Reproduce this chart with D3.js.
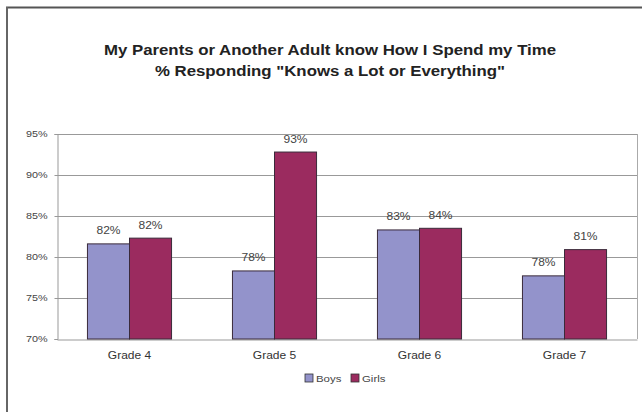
<!DOCTYPE html>
<html><head><meta charset="utf-8">
<script src="https://cdn.jsdelivr.net/npm/d3@7"></script>
<style>body{margin:0;background:#fff}svg{display:block}text{font-family:"Liberation Sans",Arial,sans-serif}</style>
</head><body><svg id="c" width="642" height="412"></svg>
<script>
const categories = ["Grade 4","Grade 5","Grade 6","Grade 7"];
const seriesNames = ["Boys","Girls"];
const boys = [81.6, 78.3, 83.3, 77.7];
const girls = [82.3, 92.8, 83.5, 80.9];
const boysLabels = ["82%","78%","83%","78%"];
const girlsLabels = ["82%","93%","84%","81%"];
const yTicks = [70,75,80,85,90,95];
const titleLines = ["My Parents or Another Adult know How I Spend my Time","% Responding \"Knows a Lot or Everything\""];
const colors = ["#9393cb","#9b2b5f"];

const svg = d3.select("#c");
// outer frame
svg.append("line").attr("x1",6).attr("x2",642).attr("y1",7.5).attr("y2",7.5).attr("stroke","#555").attr("stroke-width",2);
svg.append("line").attr("x1",7).attr("x2",7).attr("y1",7).attr("y2",412).attr("stroke","#666").attr("stroke-width",2);

const m = {l:57, r:637, t:134, b:339};
const x0 = d3.scaleBand().domain(categories).range([m.l,m.r]).paddingInner(0.42).paddingOuter(0.21);
const x1 = d3.scaleBand().domain(seriesNames).range([0,x0.bandwidth()]);
const y = d3.scaleLinear().domain([70,95]).range([m.b,m.t]);

// gridlines
svg.append("g").selectAll("line").data(yTicks.slice(1)).join("line")
  .attr("x1",m.l).attr("x2",m.r).attr("y1",d=>Math.round(y(d))+0.5).attr("y2",d=>Math.round(y(d))+0.5)
  .attr("stroke","#999").attr("stroke-width",1);
svg.append("line").attr("x1",m.r+0.5).attr("x2",m.r+0.5).attr("y1",m.t).attr("y2",m.b).attr("stroke","#aaa");

const yAxis = d3.axisLeft(y).tickValues(yTicks).tickFormat(d=>d+"%").tickSize(3);
const ga = svg.append("g").attr("transform",`translate(${m.l+0.5},0)`).call(yAxis);
ga.select(".domain").attr("stroke","#999");
ga.selectAll(".tick line").attr("stroke","#999");
ga.selectAll("text").attr("font-size",9).attr("fill","#444").attr("x",-10).attr("font-family","Liberation Sans, Arial, sans-serif");

const xAxis = d3.axisBottom(x0).tickSize(0);
const gx = svg.append("g").attr("transform",`translate(0,${m.b+0.5})`).call(xAxis);
gx.select(".domain").attr("stroke","#999");
gx.selectAll("text").attr("font-size",10).attr("fill","#333").attr("dy","1.6em").attr("font-family","Liberation Sans, Arial, sans-serif");

const data = categories.map((c,i)=>({c, vals:[{s:"Boys",v:boys[i],l:boysLabels[i]},{s:"Girls",v:girls[i],l:girlsLabels[i]}]}));
const g = svg.append("g").selectAll("g").data(data).join("g").attr("transform",d=>`translate(${x0(d.c)},0)`);
g.selectAll("rect").data(d=>d.vals).join("rect")
  .attr("x",d=>x1(d.s)).attr("width",x1.bandwidth())
  .attr("y",d=>y(d.v)).attr("height",d=>y(70)-y(d.v))
  .attr("fill",(d,i)=>colors[i]).attr("stroke","#3a2a3a").attr("stroke-width",1);
g.selectAll("text").data(d=>d.vals).join("text")
  .attr("x",d=>x1(d.s)+x1.bandwidth()/2).attr("y",d=>y(d.v)-9.5)
  .attr("text-anchor","middle").attr("font-size",10).attr("fill","#444").text(d=>d.l);

// title
svg.append("g").selectAll("text").data(titleLines).join("text")
  .attr("x",330).attr("y",(d,i)=>55+i*21).attr("text-anchor","middle")
  .attr("font-size",14).attr("font-weight","bold").attr("fill","#222").text(d=>d);

// legend
const lg = svg.append("g").attr("transform","translate(305,374)");
const items = [{n:"Boys",c:colors[0],x:0},{n:"Girls",c:colors[1],x:46}];
const li = lg.selectAll("g").data(items).join("g").attr("transform",d=>`translate(${d.x},0)`);
li.append("rect").attr("width",8).attr("height",8).attr("fill",d=>d.c).attr("stroke","#333").attr("stroke-width",0.8);
li.append("text").attr("x",11).attr("y",8).attr("font-size",9.5).attr("fill","#444").text(d=>d.n);

// the reference text is horizontally stretched by ~1.2
svg.selectAll("text").each(function(){
  const w = this.getComputedTextLength();
  d3.select(this).attr("textLength", w*1.2).attr("lengthAdjust","spacingAndGlyphs");
});
</script></body></html>
